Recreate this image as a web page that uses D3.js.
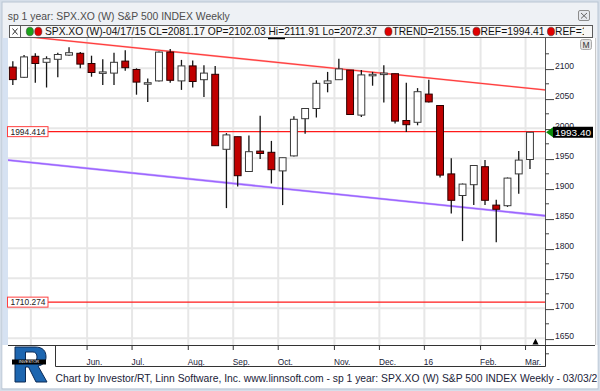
<!DOCTYPE html>
<html><head><meta charset="utf-8">
<script src="https://cdn.jsdelivr.net/npm/d3@7"></script>
<style>body{margin:0;background:#fff}svg{display:block}text{font-family:"Liberation Sans",Arial,sans-serif}</style>
</head><body><svg id="c" width="600" height="391"></svg>
<script>
// ---------- data ----------
const weeks = ["2015-04-13","2015-04-20","2015-04-27","2015-05-04","2015-05-11","2015-05-18","2015-05-25",
"2015-06-01","2015-06-08","2015-06-15","2015-06-22","2015-06-29","2015-07-06","2015-07-13","2015-07-20","2015-07-27",
"2015-08-03","2015-08-10","2015-08-17","2015-08-24","2015-08-31","2015-09-07","2015-09-14","2015-09-21","2015-09-28",
"2015-10-05","2015-10-12","2015-10-19","2015-10-26","2015-11-02","2015-11-09","2015-11-16","2015-11-23","2015-11-30",
"2015-12-07","2015-12-14","2015-12-21","2015-12-28","2016-01-04","2016-01-11","2016-01-18","2016-01-25",
"2016-02-01","2016-02-08","2016-02-15","2016-02-22","2016-02-29"];
const open  = [2102.03,2085,2120,2110,2115,2122,2125,2108,2093,2092,2112,2098,2075,2079,2127,2079,2104,2081,2090,1965,1986,1928,1962,1960,1929,1954,2016,2033,2075,2081,2097,2022,2089,2090,2091,2013,2010,2057,2038,1924,1888,1906,1936,1872,1871,1924,1948];
const high  = [2111.91,2122,2125,2120,2126,2135,2127,2121,2115,2126,2130,2100,2083,2128,2132,2114,2113,2105,2104,1992,1986,1988,2021,1979,1951,2020,2033,2080,2094,2116,2097,2097,2094,2105,2091,2076,2067,2081,2038,1950,1908,1938,1947,1881,1918,1962,1994];
const low   = [2072.37,2084,2076,2068,2085,2121,2100,2086,2072,2072,2096,2056,2044,2078,2076,2064,2068,2052,1971,1867,1903,1927,1949,1908,1872,1953,1991,2018,2060,2081,2022,2019,2071,2043,2008,1994,2005,2043,1918,1858,1812,1872,1872,1810,1869,1891,1932];
const close = [2081.17,2119,2108,2116,2123,2126,2107,2093,2094,2110,2101,2077,2076,2127,2080,2104,2078,2092,1971,1989,1921,1961,1958,1931,1951,2015,2033,2075,2079,2099,2023,2089,2090,2092,2012,2006,2061,2044,1922,1880,1907,1938,1880,1865,1917,1947,1993.40];
const monthTickWeeks = ["2015-04-27","2015-06-01","2015-06-29","2015-08-03","2015-08-31","2015-09-28","2015-11-02","2015-11-30","2015-12-28","2016-02-01","2016-02-29"];
const monthLabels = ["May","Jun.","Jul.","Aug.","Sep.","Oct.","Nov.","Dec.","16","Feb.","Mar."];
const yMajor = [1650,1700,1750,1800,1850,1900,1950,2000,2050,2100];
const yMinor = [1625,1675,1725,1775,1825,1875,1925,1975,2025,2075,2125];
const trendValues = [2155.15, 2066.5];    // resistance at first / last week
const supportValues = [1946.2, 1856.8];   // support at first / last week
const refLevels = [1994.414, 1710.274];
const refLabels = ["1994.414", "1710.274"];
const lastPrice = 1993.40;
const titleText = "sp 1 year: SPX.XO (W) S&P 500 INDEX Weekly";
const footerText = "Chart by Investor/RT, Linn Software, Inc. www.linnsoft.com - sp 1 year: SPX.XO (W) S&P 500 INDEX Weekly - 03/03/2016";

// ---------- layout ----------
const svg = d3.select("#c");
const P = {l: 8, r: 545, t: 38, b: 345};

// frame
svg.append("rect").attr("width",600).attr("height",391).attr("fill","#d5dee9");
svg.append("rect").attr("x",2).attr("y",2).attr("width",596).attr("height",387).attr("fill","#eef1f5").attr("stroke","#b9c5d4");
svg.append("rect").attr("x",P.l).attr("y",P.t).attr("width",595-P.l).attr("height",P.b-P.t).attr("fill","#fff");
svg.append("rect").attr("x",2.5).attr("y",P.t).attr("width",5.5).attr("height",P.b-P.t).attr("fill","#d6e2f2");
svg.append("rect").attr("x",2.5).attr("y",P.b).attr("width",595).attr("height",43).attr("fill","#fff");
svg.append("line").attr("x1",595.5).attr("x2",595.5).attr("y1",P.t).attr("y2",P.b).attr("stroke","#c9c9c9");

// title
svg.append("text").attr("x",7.7).attr("y",20).attr("font-size",11.5).attr("fill","#4d4d4d")
  .attr("textLength",222).attr("lengthAdjust","spacingAndGlyphs").text(titleText);
// close button
const cb = svg.append("g");
cb.append("rect").attr("x",578.5).attr("y",10.5).attr("width",11).attr("height",10).attr("rx",1.5).attr("fill","#e6e9ee").attr("stroke","#8c8c8c");
cb.append("path").attr("d","M581,13 L587,18.5 M587,13 L581,18.5").attr("stroke","#666").attr("stroke-width",1);

// scales
const x = d3.scaleBand().domain(weeks).range([7.2, 535.6]).paddingInner(0.3).paddingOuter(0.15);
const bw = x.bandwidth();
const cx = d => x(d) + bw/2;
const y = d3.scaleLinear().domain([1650, 2100]).range([338.3, 68.3]);
const xi = d3.scaleLinear().domain([0, weeks.length-1]).range([cx(weeks[0]), cx(weeks[weeks.length-1])]);

svg.append("clipPath").attr("id","plot").append("rect").attr("x",P.l).attr("y",P.t).attr("width",P.r-P.l).attr("height",P.b-P.t);
const g = svg.append("g").attr("clip-path","url(#plot)");

// grid
g.selectAll(".hg").data(yMajor).join("line").attr("x1",P.l).attr("x2",P.r)
  .attr("y1",d=>y(d)).attr("y2",d=>y(d)).attr("stroke","#e7e7e7").attr("stroke-width",2);
g.selectAll(".vg").data(monthTickWeeks).join("line").attr("x1",d=>x(d)-0.5).attr("x2",d=>x(d)-0.5)
  .attr("y1",P.t).attr("y2",P.b).attr("stroke","#e7e7e7").attr("stroke-width",2);

// channel lines
function channel(vals, color, w) {
  const vs = d3.scaleLinear().domain([0, weeks.length-1]).range(vals);
  const i0 = xi.invert(P.l), i1 = xi.invert(P.r);
  g.append("line").attr("x1",xi(i0)).attr("x2",xi(i1)).attr("y1",y(vs(i0))).attr("y2",y(vs(i1)))
    .attr("stroke",color).attr("stroke-width",w);
}
channel(supportValues, "#c7a8ff", 2.4);
channel(supportValues, "#9a63ff", 1.3);
channel(trendValues, "#ffa0a0", 1.8);
channel(trendValues, "#ff2a2a", 0.9);

// ref lines
g.selectAll(".ref").data(refLevels).join("line").attr("x1",P.l).attr("x2",P.r)
  .attr("y1",d=>y(d)).attr("y2",d=>y(d)).attr("stroke","#ff1a1a").attr("stroke-width",1.3);

// candles
const idx = d3.range(weeks.length);
g.selectAll(".wick").data(idx).join("line")
  .attr("x1",i=>cx(weeks[i])).attr("x2",i=>cx(weeks[i]))
  .attr("y1",i=>y(high[i])).attr("y2",i=>y(low[i])).attr("stroke","#151515").attr("stroke-width",1.3);
g.selectAll(".body").data(idx).join("rect")
  .attr("x",i=>x(weeks[i])+0.5).attr("width",bw-1)
  .attr("y",i=>y(Math.max(open[i],close[i])))
  .attr("height",i=>Math.max(1.5, Math.abs(y(open[i])-y(close[i]))))
  .attr("fill",i=>close[i]<open[i]?"#c00000":"#ffffff")
  .attr("stroke",i=>close[i]<open[i]?"#2a0000":"#3a3a3a").attr("stroke-width",1);

// ref labels
const rl = svg.selectAll(".rl").data(refLevels).join("g");
rl.append("rect").attr("x",7.5).attr("y",d=>y(d)-5).attr("width",40.5).attr("height",10)
  .attr("fill","#fff").attr("stroke","#ff4040").attr("stroke-width",1);
rl.append("text").attr("x",10.5).attr("y",d=>y(d)+3.2).attr("font-size",8.6).attr("fill","#222")
  .attr("textLength",35).attr("lengthAdjust","spacingAndGlyphs").text((d,i)=>refLabels[i]);

// axes lines
svg.append("line").attr("x1",P.r+0.5).attr("x2",P.r+0.5).attr("y1",P.t).attr("y2",P.b).attr("stroke","#555");
svg.append("line").attr("x1",P.l).attr("x2",595).attr("y1",P.b+0.5).attr("y2",P.b+0.5).attr("stroke","#333");

// right axis
const ra = svg.append("g").attr("transform",`translate(${P.r},0)`)
  .call(d3.axisRight(y).tickValues(yMajor).tickSize(9).tickFormat(d3.format("d")));
ra.select(".domain").remove();
ra.selectAll("line").attr("stroke","#444").attr("transform","translate(0,0.8)");
ra.selectAll("text").attr("x",10).attr("dy","0.05em").attr("font-size",8.6).attr("fill","#1c2433")
  .attr("font-family","Liberation Sans, Arial, sans-serif");
const rm = svg.append("g").attr("transform",`translate(${P.r},0)`)
  .call(d3.axisRight(y).tickValues(yMinor).tickSize(4).tickFormat(""));
rm.select(".domain").remove();
rm.selectAll("line").attr("stroke","#444");

// last price marker
const ly = y(lastPrice);
svg.append("path").attr("d",`M${P.r+1},${ly} L${P.r+8},${ly-5} L${P.r+8},${ly+5} Z`).attr("fill","#0a8a0a");
svg.append("rect").attr("x",P.r+8).attr("y",ly-5.5).attr("width",40).attr("height",11).attr("fill","#000");
svg.append("text").attr("x",P.r+10).attr("y",ly+3.5).attr("font-size",9.5).attr("fill","#fff")
  .attr("textLength",36).attr("lengthAdjust","spacingAndGlyphs").text(d3.format(".2f")(lastPrice));
// M button
svg.append("rect").attr("x",580.5).attr("y",39.5).attr("width",11).attr("height",10).attr("rx",2).attr("fill","#e4e4e4").attr("stroke","#aaa");
svg.append("text").attr("x",586).attr("y",48).attr("font-size",8.5).attr("text-anchor","middle").attr("fill","#333").text("M");
// small black triangle bottom right
svg.append("path").attr("d","M532.5,344.5 L535.5,338.5 L538.5,344.5 Z").attr("fill","#000");

// legend bar
svg.append("rect").attr("x",9.5).attr("y",25.5).attr("width",583).attr("height",12).attr("fill","#f7f7f7").attr("stroke","#5a5a5a");
svg.append("rect").attr("x",9.5).attr("y",25.5).attr("width",11).attr("height",12).attr("fill","#fff").attr("stroke","#5a5a5a");
svg.append("path").attr("d","M12.5,28.5 L17.5,34.5 M17.5,28.5 L12.5,34.5").attr("stroke","#333");
svg.append("clipPath").attr("id","lg").append("rect").attr("x",20).attr("y",25).attr("width",564).attr("height",13);
const lg = svg.append("g").attr("clip-path","url(#lg)");
const f2 = d3.format(".2f");
const legendItems = [
  {cx:[29.9,38.3], col:["#1aa31a","#e00000"], tx:45, len:332,
   t:`SPX.XO (W)-04/17/15 CL=${f2(close[0])} OP=${f2(open[0])} Hi=${f2(high[0])} Lo=${f2(low[0])}`},
  {cx:[388.4], col:["#e00000"], tx:392.5, len:78, t:`TREND=${f2(trendValues[0])}`},
  {cx:[476.5], col:["#e00000"], tx:480.5, len:64, t:`REF=${f2(refLevels[0])}`},
  {cx:[551], col:["#e00000"], tx:555, len:64, t:`REF=${f2(refLevels[1])}`}
];
legendItems.forEach(it=>{
  it.cx.forEach((c,k)=>lg.append("ellipse").attr("cx",c).attr("cy",31.5).attr("rx",3.6).attr("ry",4.3).attr("fill",it.col[k]).attr("stroke","#333").attr("stroke-width",0.5));
  lg.append("text").attr("x",it.tx).attr("y",35.3).attr("font-size",10.5).attr("fill","#111")
    .attr("textLength",it.len).attr("lengthAdjust","spacingAndGlyphs").text(it.t);
});
svg.append("line").attr("x1",268).attr("x2",285).attr("y1",38.5).attr("y2",38.5).attr("stroke","#000").attr("stroke-width",1.5);

// bottom axis box
svg.append("path").attr("d",`M55.5,${P.b} V366.5 H${P.r+0.5} V${P.b}`).attr("fill","none").attr("stroke","#333");
svg.append("clipPath").attr("id","bx").append("rect").attr("x",56).attr("y",P.b).attr("width",P.r-56).attr("height",22);
const bx = svg.append("g").attr("clip-path","url(#bx)");
bx.selectAll(".bt").data(monthTickWeeks).join("line").attr("x1",d=>x(d)-0.5).attr("x2",d=>x(d)-0.5)
  .attr("y1",P.b).attr("y2",P.b+5).attr("stroke","#333");
bx.selectAll(".bl").data(monthTickWeeks.slice(1)).join("text").attr("x",d=>x(d)-1).attr("y",365)
  .attr("font-size",8.3).attr("fill","#1a2238").text((d,i)=>monthLabels[i+1]);

// footer
svg.append("clipPath").attr("id","ft").append("rect").attr("x",0).attr("y",366).attr("width",597).attr("height",25);
svg.append("text").attr("clip-path","url(#ft)").attr("x",55.5).attr("y",381.5).attr("font-size",11).attr("fill","#1a2238")
  .attr("textLength",559).attr("lengthAdjust","spacingAndGlyphs").text(footerText);

// R logo (drawn as a shape)
const lgR = svg.append("g");
lgR.append("path").attr("fill-rule","evenodd").attr("fill","#1d66b0").attr("stroke","#0c2a55").attr("stroke-width",1)
  .attr("d","M15,347 H35 C43,347 46,351 46,357 C46,362 43,365 38,366 L47,382 H36 L28.5,367 H25.5 V382 H15 Z M25.5,352 V362 H33 C35.5,362 37,360 37,357 C37,354 35.5,352 33,352 Z");
lgR.append("rect").attr("x",12).attr("y",359.5).attr("width",34).attr("height",5).attr("fill","#000");
lgR.append("text").attr("x",29).attr("y",363.4).attr("font-size",4).attr("text-anchor","middle").attr("fill","#fff").text("INVESTOR");
</script></body></html>
